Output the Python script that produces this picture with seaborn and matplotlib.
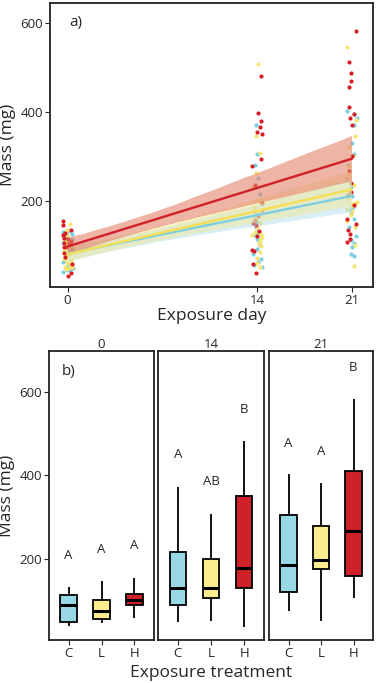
import numpy as np
import pandas as pd
import matplotlib
matplotlib.use("Agg")
import matplotlib.pyplot as plt
import seaborn as sns

# ---------------- data ----------------
days = [0, 14, 21]
treatments = ["C", "L", "H"]

mass_C_0 = [40, 44, 45, 47, 48, 49, 55, 62, 70, 80, 89, 95, 100, 104, 110, 114, 118, 121, 125, 129, 132]
mass_L_0 = [46, 48, 50, 52, 54, 56, 60, 64, 68, 72, 76, 80, 84, 88, 95, 102, 108, 115, 122, 135, 148]
mass_H_0 = [31, 37, 58, 74, 82, 89, 92, 95, 97, 100, 102, 104, 106, 109, 113, 117, 122, 128, 135, 145, 154]

mass_C_14 = [50, 55, 62, 70, 80, 91, 100, 108, 115, 122, 130, 140, 152, 170, 195, 216, 232, 250, 280, 305, 371]
mass_L_14 = [52, 60, 72, 85, 98, 106, 112, 118, 122, 126, 130, 140, 150, 165, 185, 200, 230, 262, 307, 345, 508]
mass_H_14 = [37, 57, 87, 90, 120, 131, 145, 150, 157, 165, 178, 195, 235, 277, 293, 351, 355, 366, 380, 398, 481]

mass_C_21 = [76, 80, 95, 105, 112, 120, 140, 158, 170, 178, 186, 210, 230, 250, 280, 305, 330, 370, 385, 395, 402]
mass_L_21 = [53, 100, 140, 155, 168, 176, 182, 188, 192, 195, 198, 205, 215, 235, 255, 279, 300, 320, 345, 382, 545]
mass_H_21 = [108, 115, 125, 135, 148, 159, 190, 212, 220, 240, 266, 300, 370, 385, 395, 410, 455, 470, 487, 512, 582]

letters_0 = ["A", "A", "A"]
letter_y_0 = [208, 223, 232]
letters_14 = ["A", "AB", "B"]
letter_y_14 = [449, 386, 558]
letters_21 = ["A", "A", "B"]
letter_y_21 = [477, 457, 657]

series = {
    ("C", 0): mass_C_0, ("L", 0): mass_L_0, ("H", 0): mass_H_0,
    ("C", 14): mass_C_14, ("L", 14): mass_L_14, ("H", 14): mass_H_14,
    ("C", 21): mass_C_21, ("L", 21): mass_L_21, ("H", 21): mass_H_21,
}
rows = []
for (t, d), vals in series.items():
    for v in vals:
        rows.append({"treatment": t, "day": d, "mass": v})
df = pd.DataFrame(rows)

letters = {0: (letters_0, letter_y_0), 14: (letters_14, letter_y_14), 21: (letters_21, letter_y_21)}

# ---------------- style ----------------
sns.set_style("white")
plt.rcParams["font.family"] = ["Open Sans", "DejaVu Sans"]
plt.rcParams["axes.linewidth"] = 1.2
np.random.seed(7)

pt_col = {"C": "#7ECFE2", "L": "#F8E56E", "H": "#D61E25"}
line_col = {"C": "#7FCDE1", "L": "#F5DF55", "H": "#D0202A"}
band_col = {"C": ("#A9DDEC", 0.45), "L": ("#F3E68A", 0.45), "H": ("#E3836A", 0.6)}
box_fill = {"C": "#97D8E4", "L": "#FCEE8E", "H": "#CF2129"}

W, H = 376, 683
fig = plt.figure(figsize=(W / 100, H / 100), dpi=100)

TICK_FS = 9.5
LAB_FS = 12.5

# ---------------- panel a ----------------
ax = fig.add_axes([50 / W, 1 - 287 / H, 323 / W, 284.3 / H])
for t in ["C", "L", "H"]:
    sub = df[df.treatment == t]
    sns.regplot(data=sub, x="day", y="mass", ax=ax, fit_reg=False, x_jitter=0.38,
                color=pt_col[t],
                scatter_kws=dict(s=9, linewidths=0, alpha=1, zorder=2))
for t in ["C", "L", "H"]:
    sub = df[df.treatment == t]
    n0 = len(ax.collections)
    sns.regplot(data=sub, x="day", y="mass", ax=ax, scatter=False, ci=95, seed=1,
                color=line_col[t], line_kws=dict(lw=1.7, zorder=5))
    for c in ax.collections[n0:]:
        c.set_facecolor(band_col[t][0])
        c.set_alpha(band_col[t][1])
        c.set_edgecolor("none")
        c.set_zorder(3)

ax.set_xlim(-1.3, 22.55)
ax.set_ylim(6, 645)
ax.set_xticks(days)
ax.set_yticks([200, 400, 600])
ax.tick_params(axis="both", direction="out", length=3.5, width=0.8, labelsize=TICK_FS,
               bottom=True, left=True, pad=1.5)
for s in ax.spines.values():
    s.set_color("#222222")
    s.set_linewidth(1.3)
ax.set_xlabel("Exposure day", fontsize=LAB_FS, labelpad=1)
ax.set_ylabel("Mass (mg)", fontsize=LAB_FS, labelpad=3)
ax.text(0.06, 0.93, "a)", transform=ax.transAxes, fontsize=11, va="center", ha="left")

# ---------------- panel b ----------------
bounds = [(49, 154), (158, 264), (269, 373)]
for i, d in enumerate(days):
    l, r = bounds[i]
    bx = fig.add_axes([l / W, 1 - 640 / H, (r - l) / W, 289 / H])
    sub = df[df.day == d]
    sns.boxplot(data=sub, x="treatment", y="mass", order=treatments, hue="treatment",
                hue_order=treatments, palette=box_fill, saturation=1, legend=False, width=0.5,
                linecolor="black", linewidth=1.3, showcaps=False, showfliers=False,
                medianprops=dict(linewidth=2.2), ax=bx)
    labs, ys = letters[d]
    for j, (lab, yv) in enumerate(zip(labs, ys)):
        bx.text(j, yv, lab, ha="center", va="center", fontsize=9.5)
    bx.set_xlim(-0.6, 2.6)
    bx.set_ylim(6.5, 697)
    bx.set_xlabel("")
    bx.set_ylabel("")
    bx.tick_params(axis="both", direction="out", length=3.5, width=0.8, labelsize=TICK_FS,
                   bottom=True, left=(i == 0), pad=1.5)
    if i == 0:
        bx.set_yticks([200, 400, 600])
        bx.set_ylabel("Mass (mg)", fontsize=LAB_FS, labelpad=3)
        bx.text(0.12, 0.93, "b)", transform=bx.transAxes, fontsize=11, va="center", ha="left")
    else:
        bx.set_yticks([])
    for s in bx.spines.values():
        s.set_color("#222222")
        s.set_linewidth(1.3)
    bx.set_title(str(d), fontsize=TICK_FS, pad=2.5)

fig.text(211 / W, 1 - 673 / H, "Exposure treatment", ha="center", va="center", fontsize=LAB_FS)

fig.savefig("out.png", dpi=100)
